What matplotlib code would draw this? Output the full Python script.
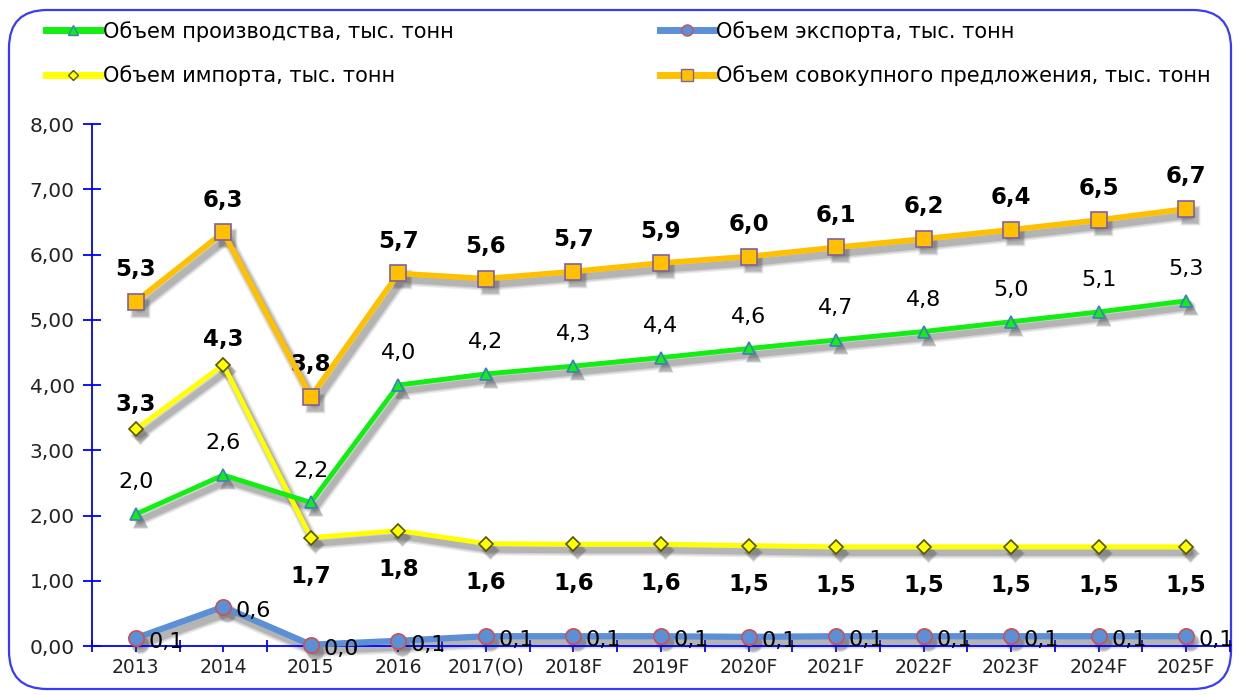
import numpy as np
import matplotlib
matplotlib.use("Agg")
import matplotlib.pyplot as plt
import matplotlib.transforms as mtransforms
from matplotlib.patches import FancyBboxPatch
from matplotlib.lines import Line2D
from matplotlib.ticker import FuncFormatter, FixedLocator

years = ["2013", "2014", "2015", "2016", "2017(O)", "2018F", "2019F", "2020F",
         "2021F", "2022F", "2023F", "2024F", "2025F"]
production = [2.02, 2.62, 2.20, 4.00, 4.17, 4.29, 4.42, 4.56, 4.69, 4.82, 4.97, 5.12, 5.29]
export = [0.12, 0.60, 0.02, 0.08, 0.15, 0.15, 0.15, 0.14, 0.15, 0.15, 0.15, 0.15, 0.15]
imports = [3.32, 4.31, 1.66, 1.77, 1.57, 1.56, 1.56, 1.54, 1.52, 1.52, 1.52, 1.52, 1.52]
supply = [5.28, 6.34, 3.82, 5.71, 5.63, 5.74, 5.87, 5.97, 6.11, 6.24, 6.38, 6.53, 6.70]

names = ["Объем производства, тыс. тонн", "Объем импорта, тыс. тонн",
         "Объем экспорта, тыс. тонн", "Объем совокупного предложения, тыс. тонн"]

def fmt(v, nd=1):
    return f"{v:.{nd}f}".replace(".", ",")

fig = plt.figure(figsize=(12.4, 6.95), dpi=100)

# rounded border in pixel coords
bg = fig.add_axes([0, 0, 1, 1], zorder=-5)
bg.set_xlim(0, 1240)
bg.set_ylim(0, 695)
bg.axis("off")
bg.add_patch(FancyBboxPatch((9, 6), 1222, 679, boxstyle="round,pad=0,rounding_size=38",
                            fc="white", ec="#3a3aff", lw=1.6))

ax = fig.add_axes([0.0742, 0.0705, 0.9177, 0.751])
x = np.arange(len(years))
shadow_tr = mtransforms.offset_copy(ax.transData, fig=fig, x=4, y=-6, units="dots")

def series(vals, color, lw, marker, ms, mec, z):
    # soft grey drop shadow, a few layers
    for extra, a in [(5, 0.10), (3, 0.14), (1, 0.20)]:
        ax.plot(x, vals, color="0.25", lw=lw + extra, alpha=a, marker=marker,
                ms=ms + extra * 0.6, mfc="0.25", mec="none", transform=shadow_tr,
                solid_joinstyle="round", solid_capstyle="round", zorder=2, clip_on=False)
    ax.plot(x, vals, color=color, lw=lw, marker=marker, ms=ms, mfc=color,
            mec=mec, mew=1.2, zorder=z, clip_on=False)

series(export, "#5b8fd6", 4.5, "o", 11, "#d05050", 3)
series(imports, "#ffff00", 3.5, "D", 7.5, "#555500", 4)
series(production, "#11ee11", 3.5, "^", 9, "#3c7fbf", 5)
series(supply, "#ffc000", 4, "s", 11, "#8060a0", 6)

# data labels
for i, v in enumerate(supply):
    ax.annotate(fmt(v), (i, v), xytext=(0, 23), textcoords="offset points",
                ha="center", va="center", fontsize=16.5, fontweight="bold")
for i, v in enumerate(production):
    ax.annotate(fmt(v), (i, v), xytext=(0, 23), textcoords="offset points",
                ha="center", va="center", fontsize=16)
for i, v in enumerate(imports):
    if i < 2:
        ax.annotate(fmt(v), (i, v), xytext=(0, 18), textcoords="offset points",
                    ha="center", va="center", fontsize=16.5, fontweight="bold")
    else:
        ax.annotate(fmt(v), (i, v), xytext=(0, -28), textcoords="offset points",
                    ha="center", va="center", fontsize=16.5, fontweight="bold")
for i, v in enumerate(export):
    ax.annotate(fmt(v), (i, v), xytext=(9, -3), textcoords="offset points",
                ha="left", va="center", fontsize=16)

ax.set_xlim(-0.5, 12.5)
ax.set_ylim(0, 8)
ax.set_yticks(np.arange(0, 9, 1))
ax.yaxis.set_major_formatter(FuncFormatter(lambda v, p: fmt(v, 2)))
ax.set_xticks(x)
ax.set_xticklabels(years)
ax.xaxis.set_minor_locator(FixedLocator(np.arange(-0.5, 12.6, 1)))

for s in ["top", "right"]:
    ax.spines[s].set_visible(False)
for s in ["left", "bottom"]:
    ax.spines[s].set_color("#0000ff")
    ax.spines[s].set_linewidth(1.3)
ax.tick_params(axis="y", direction="inout", length=13, color="#0000ff", width=1.3,
               labelsize=14.5, pad=6, labelcolor="#222222")
ax.tick_params(axis="x", which="major", direction="out", length=4.5, color="#0000ff",
               width=1.3, labelsize=13.5, pad=4, labelcolor="#222222")
ax.tick_params(axis="x", which="minor", direction="inout", length=8, color="#0000ff", width=1.3)
ax.set_facecolor("none")

handles = [
    Line2D([], [], color="#11ee11", lw=5, marker="^", ms=7, mfc="#11ee11", mec="#3c7fbf"),
    Line2D([], [], color="#ffff00", lw=5, marker="D", ms=5, mfc="#ffff00", mec="#555500"),
    Line2D([], [], color="#5b8fd6", lw=5, marker="o", ms=8, mfc="#5b8fd6", mec="#d05050"),
    Line2D([], [], color="#ffc000", lw=5, marker="s", ms=8, mfc="#ffc000", mec="#8060a0"),
]
fig.legend(handles, names, loc="upper left", bbox_to_anchor=(0.022, 0.997), ncol=2,
           frameon=False, fontsize=15, handlelength=2.6, handletextpad=0.12,
           columnspacing=9.9, labelspacing=1.15)

fig.savefig("out.png", dpi=100)
